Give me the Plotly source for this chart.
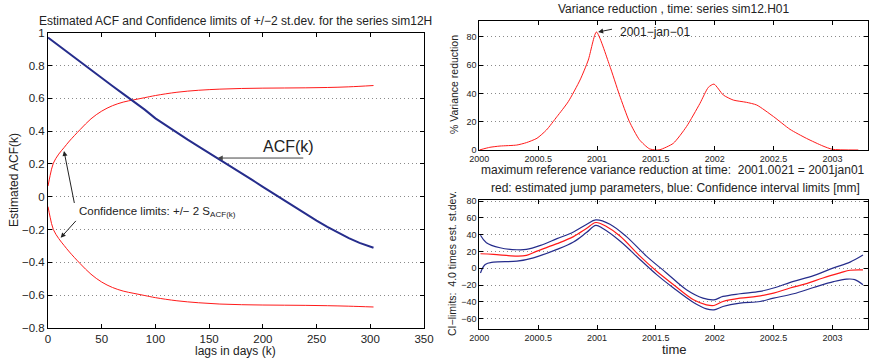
import plotly.graph_objects as go

W, H = 869, 358

# ---------------- data: left panel (ACF) ----------------
lags = [0, 10, 20, 30, 40, 50, 60, 70, 80, 90, 100, 110, 120, 130, 140, 150,
        160, 170, 180, 190, 200, 210, 220, 230, 240, 250, 260, 270, 280, 290, 300, 303]
acf = [0.970, 0.920, 0.870, 0.821, 0.772, 0.723, 0.675, 0.627, 0.580, 0.531, 0.478,
       0.433, 0.390, 0.348, 0.307, 0.267, 0.228, 0.187, 0.145, 0.103, 0.060, 0.018,
       -0.024, -0.065, -0.106, -0.145, -0.183, -0.219, -0.252, -0.281, -0.305, -0.311]

cl_lags = [0, 2, 5, 10, 15, 20, 30, 40, 50, 60, 70, 80, 90, 100, 120, 140, 160,
           180, 200, 220, 240, 260, 280, 303]
cl_upper = [0.065, 0.13, 0.205, 0.26, 0.30, 0.34, 0.41, 0.475, 0.522, 0.555, 0.577,
            0.591, 0.604, 0.617, 0.637, 0.649, 0.656, 0.660, 0.662, 0.663, 0.664,
            0.666, 0.670, 0.678]
cl_lower = [-0.060, -0.125, -0.20, -0.255, -0.297, -0.337, -0.408, -0.472, -0.520,
            -0.553, -0.575, -0.589, -0.602, -0.615, -0.634, -0.646, -0.654, -0.658,
            -0.660, -0.661, -0.662, -0.664, -0.667, -0.672]

# ---------------- data: right top (variance reduction) ----------------
vr_time = [2000.0, 2000.09, 2000.176, 2000.318, 2000.40, 2000.49, 2000.57, 2000.66,
           2000.756, 2000.856, 2000.926, 2000.995, 2001.105, 2001.19, 2001.274,
           2001.36, 2001.444, 2001.50, 2001.535, 2001.648, 2001.76, 2001.875,
           2001.946, 2001.994, 2002.073, 2002.158, 2002.27, 2002.357, 2002.50,
           2002.64, 2002.78, 2002.92, 2003.0, 2003.22]
vr_val = [0.0, 1.9, 2.8, 3.5, 5.2, 8.3, 14.1, 23.6, 34.2, 49.5, 63.6, 83.4, 60.3,
          39.1, 20.3, 7.3, 0.9, 0.0, 0.2, 4.7, 16.5, 33.0, 44.3, 46.6, 38.9, 35.3,
          33.7, 31.8, 23.6, 14.6, 8.2, 2.8, 0.5, 0.0]

# ---------------- data: right bottom (jump parameters) ----------------
jp_time = [2000.01, 2000.12, 2000.32, 2000.40, 2000.49, 2000.66, 2000.80, 2000.91,
           2000.99, 2001.08, 2001.195, 2001.365, 2001.507, 2001.65, 2001.82,
           2001.93, 2001.994, 2002.07, 2002.215, 2002.357, 2002.50, 2002.64,
           2002.78, 2002.92, 2003.065, 2003.15, 2003.26]
jp_val = [17.2, 16.4, 14.4, 15.2, 20.4, 29.2, 37.6, 47.2, 54.4, 49.6, 38.4, 14.4,
          -3.6, -19.6, -37.6, -43.6, -44.4, -39.6, -35.6, -33.6, -29.6, -23.6,
          -18.4, -11.6, -5.6, -2.4, -2.0]

up_time = [2000.01, 2000.06, 2000.176, 2000.32, 2000.40, 2000.52, 2000.66, 2000.80,
           2000.91, 2000.99, 2001.11, 2001.25, 2001.42, 2001.59, 2001.76, 2001.90,
           2001.994, 2002.07, 2002.215, 2002.385, 2002.50, 2002.67, 2002.84,
           2003.01, 2003.15, 2003.26]
up_val = [39.2, 30.4, 24.4, 22.0, 22.4, 27.2, 35.2, 43.2, 52.0, 57.5, 52.4, 37.6,
          14.4, -5.6, -25.6, -35.6, -37.6, -33.6, -30.4, -27.6, -23.6, -15.6, -8.8,
          0.4, 7.2, 15.6]

lo_time = [2000.01, 2000.05, 2000.12, 2000.32, 2000.46, 2000.66, 2000.80, 2000.91,
           2000.99, 2001.05, 2001.195, 2001.365, 2001.507, 2001.65, 2001.82,
           2001.93, 2001.994, 2002.07, 2002.215, 2002.385, 2002.50, 2002.67,
           2002.84, 2003.01, 2003.12, 2003.19, 2003.26]
lo_val = [-5.6, 4.4, 7.2, 8.4, 12.4, 22.4, 31.2, 42.4, 51.0, 47.2, 32.4, 10.4,
          -7.6, -23.6, -40.8, -48.4, -49.6, -45.6, -41.6, -39.6, -35.6, -30.4,
          -23.0, -16.0, -13.0, -13.5, -19.6]

left_xticks = [0, 50, 100, 150, 200, 250, 300, 350]
left_yticks = [-0.8, -0.6, -0.4, -0.2, 0, 0.2, 0.4, 0.6, 0.8, 1]
right_xticks = [2000, 2000.5, 2001, 2001.5, 2002, 2002.5, 2003]
vr_yticks = [0, 20, 40, 60, 80]
jp_yticks = [-60, -40, -20, 0, 20, 40, 60, 80]

RED = "#ff1a1a"
BLUE = "#262d8c"
FONT = "Liberation Sans, Arial, sans-serif"
TXT = "#222222"
GRID = dict(showgrid=True, gridcolor="#8a8a8a", griddash="1px,3px", gridwidth=1)


def px_x(p):
    return p / W


def px_y(p):
    return 1 - p / H


fig = go.Figure()

# left
fig.add_trace(go.Scatter(x=cl_lags, y=cl_upper, mode="lines", line=dict(color=RED, width=1, shape="spline"),
                         xaxis="x", yaxis="y", hoverinfo="skip"))
fig.add_trace(go.Scatter(x=cl_lags, y=cl_lower, mode="lines", line=dict(color=RED, width=1, shape="spline"),
                         xaxis="x", yaxis="y", hoverinfo="skip"))
fig.add_trace(go.Scatter(x=lags, y=acf, mode="lines", line=dict(color=BLUE, width=2),
                         xaxis="x", yaxis="y"))

# right top
fig.add_trace(go.Scatter(x=vr_time, y=vr_val, mode="lines", line=dict(color=RED, width=1, shape="spline", smoothing=0.6),
                         xaxis="x2", yaxis="y2"))

# right bottom
fig.add_trace(go.Scatter(x=up_time, y=up_val, mode="lines", line=dict(color=BLUE, width=1.2, shape="spline"),
                         xaxis="x3", yaxis="y3"))
fig.add_trace(go.Scatter(x=lo_time, y=lo_val, mode="lines", line=dict(color=BLUE, width=1.2, shape="spline"),
                         xaxis="x3", yaxis="y3"))
fig.add_trace(go.Scatter(x=jp_time, y=jp_val, mode="lines", line=dict(color=RED, width=1.2, shape="spline"),
                         xaxis="x3", yaxis="y3"))

common_axis = dict(showline=True, linecolor="black", linewidth=1, mirror="ticks",
                   ticks="inside", ticklen=4, tickcolor="black", zeroline=False,
                   automargin=False)

fig.update_layout(
    width=W, height=H,
    margin=dict(l=0, r=0, t=0, b=0),
    paper_bgcolor="white", plot_bgcolor="white",
    showlegend=False,
    font=dict(family=FONT, color=TXT),
    xaxis=dict(domain=[px_x(48), px_x(424)], range=[0, 350], tickvals=left_xticks,
               showgrid=False, tickfont=dict(size=11.5), anchor="y", **common_axis),
    yaxis=dict(domain=[px_y(328), px_y(32.7)], range=[-0.8, 1], tickvals=left_yticks,
               tickfont=dict(size=11.5), anchor="x", **GRID, **common_axis),
    xaxis2=dict(domain=[px_x(479.3), px_x(868.3)], range=[2000, 2003.305], tickvals=right_xticks,
                ticktext=[str(v) for v in right_xticks],
                showgrid=False, tickfont=dict(size=9), anchor="y2", **common_axis),
    yaxis2=dict(domain=[px_y(150), px_y(21)], range=[0, 91.2], tickvals=vr_yticks,
                tickfont=dict(size=9), anchor="x2", **GRID, **common_axis),
    xaxis3=dict(domain=[px_x(479.3), px_x(868.3)], range=[2000, 2003.305], tickvals=right_xticks,
                ticktext=[str(v) for v in right_xticks],
                showgrid=False, tickfont=dict(size=9), anchor="y3", **common_axis),
    yaxis3=dict(domain=[px_y(328.7), px_y(200)], range=[-72, 81.2], tickvals=jp_yticks,
                tickfont=dict(size=9), anchor="x3", **GRID, **common_axis),
)

ann = []


def ptext(text, xp, yp, size, angle=0, xanchor="center"):
    ann.append(dict(text=text, x=px_x(xp), y=px_y(yp), xref="paper", yref="paper",
                    showarrow=False, font=dict(size=size, family=FONT, color=TXT),
                    textangle=angle, xanchor=xanchor, yanchor="middle"))


# left texts
ptext("Estimated ACF and Confidence limits of +/\u22122 st.dev. for the series sim12H", 236, 21, 12)
ptext("lags in days (k)", 236, 351, 12)
ptext("Estimated ACF(k)", 14, 180, 12, angle=-90)

# right texts
ptext("Variance reduction , time: series sim12.H01", 674, 9, 12)
ptext("% Variance reduction", 454, 85, 10.5, angle=-90)
ptext("maximum reference variance reduction at time:  2001.0021 = 2001jan01", 673, 169.5, 12)
ptext("red: estimated jump parameters, blue: Confidence interval limits [mm]", 675, 188, 12)
ptext("CI\u2212limits:  4.0 times est. st.dev.", 452, 264, 10.5, angle=-90)
ptext("time", 674, 349, 13)

# left: ACF(k) label and arrow
ann.append(dict(text="ACF(k)", x=224, y=0.305, xref="x", yref="y", showarrow=False,
                font=dict(size=16, family=FONT, color=TXT), xanchor="center", yanchor="middle"))
ann.append(dict(text="", x=158, y=0.236, ax=239, ay=0.236, xref="x", yref="y", axref="x", ayref="y",
                showarrow=True, arrowhead=2, arrowsize=1, arrowwidth=1, arrowcolor="#444"))
# confidence limits label and arrows
ann.append(dict(text="Confidence limits: +/\u2212 2 S<sub>ACF(k)</sub>", x=27, y=-0.09, xref="x", yref="y",
                showarrow=False, font=dict(size=11.5, family=FONT, color=TXT),
                xanchor="left", yanchor="middle"))
ann.append(dict(text="", x=14.9, y=0.279, ax=24.8, ay=-0.047, xref="x", yref="y", axref="x", ayref="y",
                showarrow=True, arrowhead=2, arrowsize=1, arrowwidth=1, arrowcolor="#222"))
ann.append(dict(text="", x=11.8, y=-0.25, ax=27.2, ay=-0.138, xref="x", yref="y", axref="x", ayref="y",
                showarrow=True, arrowhead=2, arrowsize=1, arrowwidth=1, arrowcolor="#222"))

# right top peak label
ann.append(dict(text="2001\u2212jan\u221201", x=2001.178, y=83.6, xref="x2", yref="y2", showarrow=False,
                font=dict(size=12, family=FONT, color=TXT), xanchor="left", yanchor="middle"))
ann.append(dict(text="", x=2001.01, y=83.4, ax=2001.14, ay=85.6, xref="x2", yref="y2", axref="x2", ayref="y2",
                showarrow=True, arrowhead=2, arrowsize=1, arrowwidth=1, arrowcolor="#222"))

fig.update_layout(annotations=ann)

fig.write_html("out.html")
